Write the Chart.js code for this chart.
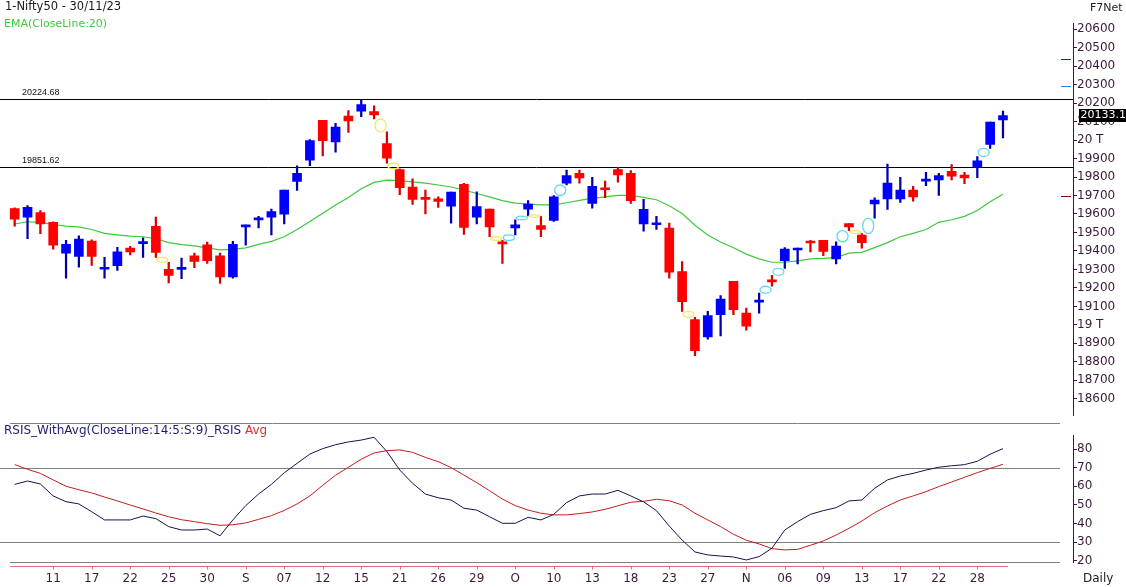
<!DOCTYPE html>
<html>
<head>
<meta charset="utf-8">
<script src="https://cdn.jsdelivr.net/npm/chart.js@4.4.0/dist/chart.umd.min.js"></script>
<style>
  body { margin: 0; background: #fff; }
  #wrap { position: relative; width: 1126px; height: 587px; overflow: hidden; background: #fff; }
  canvas { position: absolute; left: 0; }
  #price { top: 0; }
  #rsi { top: 420px; }
</style>
</head>
<body>
<div id="wrap">
  <canvas id="price" width="1126" height="423"></canvas>
  <canvas id="rsi" width="1126" height="167"></canvas>
</div>
<script>
// daily candles, 08 Aug .. 30 Nov 2023
const opens = [19629, 19583, 19608, 19555, 19388, 19370, 19454, 19301, 19321, 19415,
  19440, 19533, 19300, 19300, 19374, 19433, 19374, 19259, 19530, 19568,
  19583, 19599, 19776, 19891, 20107, 19990, 20130, 20157, 20154, 19981,
  19841, 19746, 19683, 19682, 19643, 19760, 19583, 19626, 19448, 19524,
  19626, 19537, 19565, 19767, 19820, 19657, 19737, 19840, 19820, 19546,
  19542, 19524, 19289, 19029, 18935, 19055, 19236, 19064, 19123, 19240,
  19347, 19405, 19447, 19457, 19357, 19548, 19486, 19654, 19681, 19681,
  19729, 19778, 19785, 19831, 19810, 19852, 19976, 20109];
const highs = [19634, 19645, 19618, 19557, 19457, 19482, 19460, 19365, 19420, 19425,
  19471, 19583, 19339, 19362, 19388, 19448, 19389, 19452, 19540, 19588,
  19627, 19730, 19860, 20003, 20107, 20091, 20159, 20219, 20185, 20044,
  19845, 19790, 19729, 19693, 19719, 19766, 19720, 19626, 19457, 19569,
  19672, 19588, 19700, 19838, 19838, 19799, 19778, 19852, 19835, 19679,
  19587, 19551, 19342, 19041, 19073, 19158, 19236, 19091, 19172, 19268,
  19418, 19415, 19457, 19457, 19449, 19548, 19494, 19687, 19870, 19799,
  19750, 19826, 19820, 19867, 19826, 19911, 20097, 20157];
const lows = [19534, 19466, 19493, 19410, 19253, 19312, 19322, 19253, 19294, 19378,
  19365, 19365, 19227, 19250, 19309, 19333, 19224, 19253, 19431, 19524,
  19487, 19546, 19728, 19861, 19914, 19935, 20042, 20127, 20114, 19875,
  19705, 19652, 19601, 19636, 19551, 19489, 19546, 19477, 19333, 19487,
  19589, 19477, 19560, 19757, 19767, 19631, 19689, 19772, 19657, 19507,
  19516, 19253, 19073, 18834, 18922, 18940, 19055, 18972, 19064, 19209,
  19306, 19330, 19395, 19374, 19330, 19510, 19415, 19578, 19625, 19663,
  19670, 19753, 19700, 19785, 19764, 19796, 19955, 20012];
const closes = [19572, 19636, 19546, 19431, 19436, 19464, 19370, 19310, 19395, 19395,
  19444, 19392, 19268, 19306, 19344, 19347, 19259, 19436, 19533, 19576,
  19613, 19730, 19820, 19997, 19997, 20070, 20104, 20192, 20136, 19902,
  19742, 19679, 19679, 19668, 19719, 19527, 19640, 19530, 19438, 19542,
  19654, 19516, 19693, 19808, 19795, 19750, 19731, 19811, 19672, 19625,
  19546, 19285, 19126, 18860, 19050, 19140, 19082, 18993, 19133, 19233,
  19410, 19410, 19443, 19397, 19427, 19530, 19445, 19675, 19767, 19729,
  19693, 19782, 19808, 19804, 19795, 19888, 20097, 20133.1];

const ema20 = [19546, 19558, 19555, 19543, 19534, 19530, 19516, 19495, 19487, 19480,
  19477, 19466, 19445, 19434, 19427, 19417, 19406, 19409, 19417, 19436,
  19452, 19477, 19516, 19560, 19604, 19649, 19689, 19737, 19771, 19783,
  19781, 19774, 19767, 19757, 19746, 19730, 19711, 19693, 19672, 19659,
  19653, 19649, 19649, 19661, 19674, 19685, 19693, 19701, 19701, 19690,
  19677, 19645, 19603, 19539, 19486, 19448, 19417, 19383, 19357, 19339,
  19339, 19346, 19357, 19360, 19365, 19388, 19392, 19418, 19445, 19477,
  19495, 19516, 19555, 19569, 19587, 19619, 19666, 19707];

const rsis = [61.0, 62.8, 61.2, 54.8, 51.7, 50.5, 46.3, 41.9, 41.9, 41.9,
  44.0, 42.6, 38.3, 36.5, 36.5, 37.0, 33.4, 41.9, 49.6, 55.8,
  61.0, 67.2, 72.3, 77.3, 80.2, 82.3, 83.8, 84.8, 86.3, 78.6,
  68.7, 61.6, 55.8, 53.8, 52.6, 48.2, 47.2, 43.6, 40.1, 40.1,
  43.3, 41.9, 44.9, 51.2, 54.8, 55.8, 55.8, 57.8, 54.8, 51.6,
  46.9, 38.6, 31.1, 24.7, 23.1, 22.5, 22.0, 20.4, 22.2, 26.7,
  36.5, 41.0, 44.9, 46.9, 48.5, 52.1, 52.6, 58.9, 63.4, 65.5,
  66.9, 68.7, 70.2, 71.0, 71.6, 73.4, 77.2, 80.2];
const rsisAvg = [71.6, 69.1, 66.9, 63.4, 60.0, 58.1, 56.4, 54.2, 52.1, 49.9,
  47.8, 45.6, 43.6, 42.0, 41.0, 39.9, 39.0, 39.3, 40.3, 42.2,
  44.2, 47.0, 50.5, 54.8, 60.5, 65.9, 70.2, 74.5, 77.9, 79.1,
  79.5, 78.2, 75.5, 73.2, 70.0, 66.0, 61.9, 57.6, 53.1, 49.6,
  47.2, 45.5, 44.6, 44.6, 45.3, 46.2, 47.6, 49.5, 51.4, 51.9,
  53.0, 52.2, 49.9, 45.5, 41.9, 38.3, 34.2, 31.0, 29.0, 26.5,
  25.8, 26.1, 28.3, 30.6, 33.8, 37.4, 41.3, 45.8, 49.4, 52.6,
  54.8, 57.1, 59.8, 62.3, 64.8, 67.3, 69.6, 71.8];

// date labels under the candles (index of candle -> text)
const dateIdx = [3, 6, 9, 12, 15, 18, 21, 24, 27, 30, 33, 36, 39, 42, 45, 48, 51, 54, 57, 60, 63, 66, 69, 72, 75];
const dateText = ['11', '17', '22', '25', '30', 'S', '07', '12', '15', '21', '26', '29', 'O', '10', '13', '18', '23', '27', 'N', '06', '09', '13', '17', '22', '28'];

const priceTicks = [18600, 18700, 18800, 18900, 19000, 19100, 19200, 19300, 19400, 19500, 19600,
  19700, 19800, 19900, 20000, 20100, 20200, 20300, 20400, 20500, 20600];
const rsiTicks = [20, 30, 40, 50, 60, 70, 80];
const rsiLevels = [70, 30];
const refLevels = [20224.68, 19851.62];

// gap markers between candle i and i+1
const gapAt = [11, 28, 29, 37, 38, 39, 40, 42, 52, 58, 59, 64, 65, 66, 75];
const gapLow = [19339, 20044, 19845, 19457, 19457, 19569, 19588, 19700, 19041, 19172, 19268, 19449, 19494, 19494, 19911];
const gapHigh = [19365, 20114, 19875, 19477, 19487, 19589, 19589, 19757, 19073, 19209, 19306, 19510, 19510, 19578, 19955];
const gapUp = [false, false, false, false, true, true, false, true, false, true, true, true, false, true, true];

// small marks near the price axis
const axisMarks = [20441, 20295, 19700];
const axisMarkColors = ['#6a1048', '#2a86e0', '#7a0a0a'];

Chart.defaults.font.family = '"DejaVu Sans", Verdana, sans-serif';
Chart.defaults.font.size = 12;

const axisColor = '#4a1040';
const tickColor = '#3c1a3a';
const xMin = -1.145, xMax = 82.455;
const idx = opens.map((_, i) => i);
const isUp = i => closes[i] >= opens[i];

const priceDecor = {
  id: 'priceDecor',
  beforeDatasetsDraw(chart) {
    const { ctx, chartArea: a, scales: { y } } = chart;
    ctx.save();
    ctx.strokeStyle = '#000';
    ctx.lineWidth = 1;
    ctx.fillStyle = '#111';
    ctx.font = '9px "Liberation Sans"';
    ctx.textBaseline = 'middle';
    refLevels.forEach(v => {
      const py = Math.round(y.getPixelForValue(v)) + 0.5;
      ctx.beginPath();
      ctx.moveTo(a.left, py);
      ctx.lineTo(a.right, py);
      ctx.stroke();
      ctx.fillText(v.toFixed(2), 22, py - 7);
    });
    ctx.restore();
  },
  afterDatasetsDraw(chart) {
    const { ctx, scales: { x, y } } = chart;
    ctx.save();
    ctx.lineWidth = 1.3;
    gapAt.forEach((g, k) => {
      const cx = x.getPixelForValue(g + 0.5);
      const y1 = y.getPixelForValue(gapLow[k]);
      const y2 = y.getPixelForValue(gapHigh[k]);
      const ry = Math.max(Math.abs(y1 - y2) / 2, 1.2);
      ctx.strokeStyle = gapUp[k] ? '#62d8ec' : '#eeea60';
      ctx.beginPath();
      ctx.ellipse(cx, (y1 + y2) / 2, 5.5, ry, 0, 0, Math.PI * 2);
      ctx.stroke();
    });
    ctx.restore();
  },
  afterDraw(chart) {
    const { ctx, chartArea: a, scales: { y } } = chart;
    ctx.save();
    ctx.lineWidth = 1;
    axisMarks.forEach((v, k) => {
      const py = Math.round(y.getPixelForValue(v)) + 0.5;
      ctx.strokeStyle = axisMarkColors[k];
      ctx.beginPath();
      ctx.moveTo(a.right - 12, py);
      ctx.lineTo(a.right - 2, py);
      ctx.stroke();
    });

    const last = closes[closes.length - 1];
    const ly = Math.round(y.getPixelForValue(last));
    ctx.fillStyle = '#000';
    ctx.fillRect(a.right + 6, ly - 6, 53 - 6, 13);
    ctx.fillStyle = '#fff';
    ctx.font = '11px "DejaVu Sans"';
    ctx.textBaseline = 'middle';
    ctx.fillText(last.toFixed(1), a.right + 7.5, ly + 0.5);

    ctx.textBaseline = 'middle';
    ctx.fillStyle = '#1a1a1a';
    ctx.font = '11.5px "DejaVu Sans"';
    ctx.fillText('1-Nifty50 - 30/11/23', 5, 7.5);
    ctx.fillStyle = '#3ccc3c';
    ctx.font = '11px "DejaVu Sans"';
    ctx.fillText('EMA(CloseLine:20)', 4, 24);
    ctx.fillStyle = '#222';
    ctx.fillText('F7Net', 1090, 8.5);
    ctx.restore();
  }
};

new Chart(document.getElementById('price'), {
  type: 'bar',
  data: {
    datasets: [
      {
        label: 'body',
        data: idx.map(i => ({ x: i, y: [opens[i], closes[i]] })),
        backgroundColor: idx.map(i => isUp(i) ? '#0000ff' : '#ff0000'),
        barThickness: 9,
        minBarLength: 2,
        grouped: false,
        order: 0
      },
      {
        label: 'wick',
        data: idx.map(i => ({ x: i, y: [lows[i], highs[i]] })),
        backgroundColor: idx.map(i => isUp(i) ? '#0000a8' : '#d80000'),
        barThickness: 1.6,
        grouped: false,
        order: 1
      },
      {
        type: 'line',
        label: 'EMA',
        data: idx.map(i => ({ x: i, y: ema20[i] })),
        borderColor: '#3ec83e',
        borderWidth: 1.2,
        pointRadius: 0,
        tension: 0,
        order: 2
      }
    ]
  },
  options: {
    responsive: false,
    animation: false,
    events: [],
    devicePixelRatio: 1,
    layout: { padding: { top: 23, left: 0, right: 0, bottom: 0 } },
    plugins: { legend: { display: false }, tooltip: { enabled: false } },
    scales: {
      x: { type: 'linear', min: xMin, max: xMax, offset: false, bounds: 'data', display: false },
      y: {
        type: 'linear',
        position: 'right',
        min: 18508,
        max: 20633.5,
        bounds: 'data',
        afterFit: s => { s.width = 53; },
        afterBuildTicks: s => { s.ticks = priceTicks.map(v => ({ value: v })); },
        ticks: {
          autoSkip: false,
          padding: 0,
          color: tickColor,
          callback: v => v % 1000 === 0 ? (v / 1000) + ' T' : String(v)
        },
        grid: { drawOnChartArea: false, tickLength: 4, color: axisColor },
        border: { color: axisColor }
      }
    }
  },
  plugins: [priceDecor]
});

const rsiDecor = {
  id: 'rsiDecor',
  beforeDatasetsDraw(chart) {
    const { ctx, chartArea: a, scales: { x, y } } = chart;
    ctx.save();
    ctx.lineWidth = 1;
    const hline = (py, x0, x1) => {
      ctx.beginPath();
      ctx.moveTo(x0, py);
      ctx.lineTo(x1, py);
      ctx.stroke();
    };
    ctx.strokeStyle = '#808080';
    rsiLevels.forEach(v => hline(Math.round(y.getPixelForValue(v)) + 0.5, 0, 1060));
    hline(3.5, 10, 1060);
    hline(Math.floor(a.bottom) + 0.5, 10, 1060);
    ctx.strokeStyle = '#e07070';
    const ry = Math.floor(a.bottom) + 4.5;
    hline(ry, 10, 1008);
    dateIdx.forEach(i => {
      const px = Math.round(x.getPixelForValue(i)) + 0.5;
      ctx.beginPath();
      ctx.moveTo(px, ry);
      ctx.lineTo(px, ry + 3);
      ctx.stroke();
    });
    ctx.restore();
  },
  afterDraw(chart) {
    const { ctx } = chart;
    ctx.save();
    ctx.font = '12px "DejaVu Sans"';
    ctx.textBaseline = 'middle';
    const title = 'RSIS_WithAvg(CloseLine:14:5:S:9)_RSIS ';
    ctx.fillStyle = '#1c1c70';
    ctx.fillText(title, 4, 10.7);
    ctx.fillStyle = '#e02c2c';
    ctx.fillText('Avg', 4 + ctx.measureText(title).width, 10.7);
    ctx.fillStyle = '#222';
    ctx.fillText('Daily', 1083, 158.5);
    ctx.restore();
  }
};

new Chart(document.getElementById('rsi'), {
  type: 'line',
  data: {
    datasets: [
      {
        label: 'RSIS',
        data: idx.map(i => ({ x: i, y: rsis[i] })),
        borderColor: '#14144e',
        borderWidth: 1,
        pointRadius: 0,
        tension: 0
      },
      {
        label: 'Avg',
        data: idx.map(i => ({ x: i, y: rsisAvg[i] })),
        borderColor: '#c41c1c',
        borderWidth: 1,
        pointRadius: 0,
        tension: 0
      }
    ]
  },
  options: {
    responsive: false,
    animation: false,
    events: [],
    devicePixelRatio: 1,
    layout: { padding: { top: 15, left: 0, right: 0, bottom: 0 } },
    plugins: { legend: { display: false }, tooltip: { enabled: false } },
    scales: {
      x: {
        type: 'linear',
        min: xMin,
        max: xMax,
        bounds: 'data',
        offset: false,
        afterFit: s => { s.height = 24.3; },
        afterBuildTicks: s => { s.ticks = dateIdx.map(v => ({ value: v })); },
        ticks: {
          autoSkip: false,
          maxRotation: 0,
          padding: 9,
          color: tickColor,
          callback: v => dateText[dateIdx.indexOf(v)]
        },
        grid: { display: false, drawTicks: false },
        border: { display: false }
      },
      y: {
        type: 'linear',
        position: 'right',
        min: 18.93,
        max: 87.52,
        bounds: 'data',
        afterFit: s => { s.width = 53; },
        afterBuildTicks: s => { s.ticks = rsiTicks.map(v => ({ value: v })); },
        ticks: { autoSkip: false, padding: 0, color: tickColor },
        grid: { drawOnChartArea: false, tickLength: 4, color: axisColor },
        border: { color: axisColor }
      }
    }
  },
  plugins: [rsiDecor]
});
</script>
</body>
</html>
